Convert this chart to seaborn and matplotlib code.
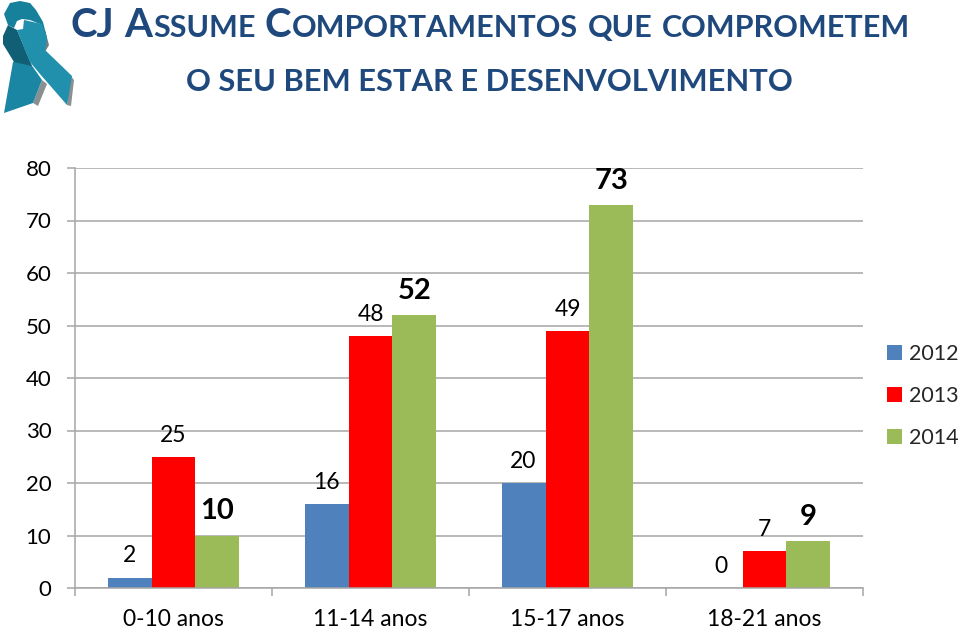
import pandas as pd
import matplotlib
matplotlib.use('Agg')
import matplotlib.pyplot as plt
from matplotlib.patches import Polygon
import seaborn as sns

categories = ['0-10 anos', '11-14 anos', '15-17 anos', '18-21 anos']
years = ['2012', '2013', '2014']
values_2012 = [2, 16, 20, 0]
values_2013 = [25, 48, 49, 7]
values_2014 = [10, 52, 73, 9]
y_ticks = [0, 10, 20, 30, 40, 50, 60, 70, 80]

title_runs = [('CJ', 29), (' ', 22), ('A', 29), ('SSUME', 22), (' ', 22), ('C', 29),
              ('OMPORTAMENTOS', 22), (' ', 22), ('QUE', 22), (' ', 22), ('COMPROMETEM', 22)]
title_line2 = 'O SEU BEM ESTAR E DESENVOLVIMENTO'

W, H = 959, 629
sns.set_theme(style='white')
plt.rcParams['font.family'] = ['Lato', 'DejaVu Sans']

df = pd.DataFrame({'faixa': categories * 3,
                   'ano': [y for y in years for _ in categories],
                   'casos': values_2012 + values_2013 + values_2014})

fig = plt.figure(figsize=(W / 100, H / 100), dpi=100)
ax = fig.add_axes([75 / W, 1 - 588 / H, (863 - 75) / W, (588 - 168) / H])

sns.barplot(data=df, x='faixa', y='casos', hue='ano', ax=ax, width=0.67, gap=0,
            palette=['#4F81BD', '#FF0000', '#9BBB59'], saturation=1, linewidth=0, legend=True)

ax.set_xlim(-0.5, 3.5)
ax.set_ylim(0, 80)
ax.set_yticks(y_ticks)
ax.set_xlabel('')
ax.set_ylabel('')
ax.grid(axis='y', color='#A6A6A6', lw=1.1)
ax.set_axisbelow(True)
for s in ['top', 'right']:
    ax.spines[s].set_visible(False)
for s in ['left', 'bottom']:
    ax.spines[s].set_color('#A6A6A6')
    ax.spines[s].set_linewidth(1.1)
ax.set_xticks([-0.5, 0.5, 1.5, 2.5, 3.5], minor=True)
ax.tick_params(axis='x', which='major', length=0, pad=15, labelsize=16.5, colors='black')
ax.tick_params(axis='x', which='minor', length=6, width=1.1, color='#A6A6A6', bottom=True)
ax.tick_params(axis='y', length=6, width=1.1, color='#A6A6A6', left=True, pad=11,
               labelsize=16, labelcolor='black')

# a ultima serie tem os rotulos a negrito
for i, cont in enumerate(ax.containers):
    if i == 2:
        ax.bar_label(cont, fmt='%d', padding=8, fontsize=21, fontweight='bold', color='black')
    else:
        ax.bar_label(cont, fmt='%d', padding=8, fontsize=16.5, color='black')

ax.legend(loc='upper left', bbox_to_anchor=(887 / W, 1 - 344 / H), bbox_transform=fig.transFigure,
          frameon=False, fontsize=15.5, handlelength=0.7, handleheight=0.7, handletextpad=0.3,
          labelspacing=1.03, borderpad=0, borderaxespad=0, title=None)

# camada em pixeis para o titulo e o laco
over = fig.add_axes([0, 0, 1, 1], zorder=5)
over.set_xlim(0, W)
over.set_ylim(H, 0)
over.axis('off')

NAVY = '#1F497D'
renderer = fig.canvas.get_renderer()
x = 71
for txt, size in title_runs:
    if txt == ' ':
        x += 8.2
        continue
    t = over.text(x, 37, txt, fontsize=size, fontweight='bold', color=NAVY, ha='left', va='baseline')
    bb = t.get_window_extent(renderer)
    x += bb.width + 1
over.text(489.5, 91, title_line2, fontsize=22.2, fontweight='bold', color=NAVY, ha='center', va='baseline')

# laco azul (decorativo)
over.add_patch(Polygon([(42, 80), (47, 84), (38, 106), (33, 103)], fc='#8A8F92', ec='none'))
over.add_patch(Polygon([(70, 75), (74, 80), (71, 106), (67, 105)], fc='#8A8F92', ec='none'))
over.add_patch(Polygon([(45, 30), (49, 45), (45, 52)], fc='#6F7F85', ec='none'))
over.add_patch(Polygon([(13, 62), (28, 60), (42, 80), (33, 103), (4, 113)], fc='#1B86A3', ec='none'))
over.add_patch(Polygon([(8, 25), (17, 30), (32, 66), (14, 62), (3, 44), (3, 36)], fc='#115F75', ec='none'))
over.add_patch(Polygon([(10, 3), (20, 1), (30, 3), (36, 10), (43, 22), (47, 38), (40, 24), (30, 20), (22, 19), (17, 21), (14, 28), (8, 25), (4, 14)], fc='#17809B', ec='none'))
over.add_patch(Polygon([(17, 30), (23, 29), (24, 20), (42, 24), (47, 38), (45, 50), (72, 76), (67, 105), (40, 74), (30, 62)], fc='#2190AD', ec='none'))

fig.savefig('out.png', dpi=100)
